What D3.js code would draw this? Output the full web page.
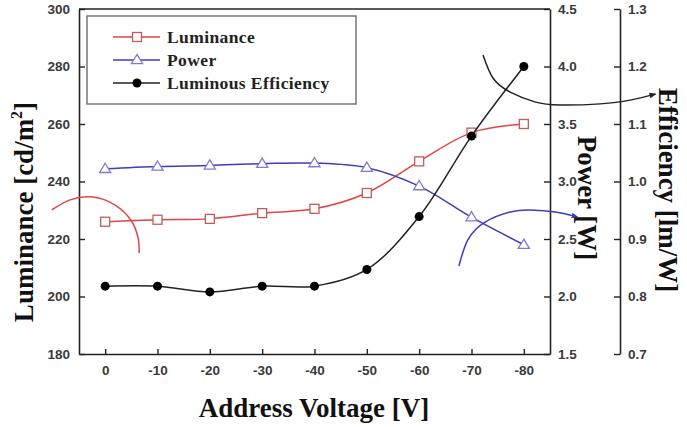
<!DOCTYPE html>
<html>
<head>
<meta charset="utf-8">
<script src="https://cdn.jsdelivr.net/npm/d3@7"></script>
<style>
  body { margin: 0; background: #fff; }
  svg { display: block; }
</style>
</head>
<body>
<div id="chart"></div>
<script>
// Data
const voltages = [0, -10, -20, -30, -40, -50, -60, -70, -80]
const luminance = [226, 226.7, 227, 229, 230.5, 236, 247, 257, 260]
const power = [3.11, 3.13, 3.14, 3.155, 3.16, 3.12, 2.96, 2.69, 2.45]
const efficiency = [0.818, 0.818, 0.808, 0.818, 0.818, 0.847, 0.939, 1.079, 1.2]

const xTicks = [0, -10, -20, -30, -40, -50, -60, -70, -80]
const lumTicks = [180, 200, 220, 240, 260, 280, 300]
const powTicks = [1.5, 2.0, 2.5, 3.0, 3.5, 4.0, 4.5]
const effTicks = [0.7, 0.8, 0.9, 1.0, 1.1, 1.2, 1.3]

// Annotation curves, in (voltage, luminance) units
const redArc = [[10.2, 230.1], [6.7, 233.6], [2.3, 234.6], [-1.9, 231.8], [-4.9, 226.6], [-6.3, 220.3], [-6.5, 215.1]]
const blueArc = [[-67.6, 210.6], [-69.3, 219.7], [-72.6, 225.9], [-77.4, 229.4], [-81.2, 230.1], [-86.0, 229.4], [-90.2, 227.7]]
const blackArc = [[-72.2, 284.0], [-74.1, 276.0], [-77.4, 271.1], [-82.1, 267.7], [-86.9, 266.6], [-94.6, 267.0], [-100.3, 268.3], [-105.1, 270.4]]

// Canvas
const m = { left: 79, right: 137, top: 9, bottom: 73 }
const W = 687, H = 427
const w = W - m.left - m.right
const h = H - m.top - m.bottom

const svg = d3.select('#chart').append('svg')
  .attr('width', W).attr('height', H)

const defs = svg.append('defs')
const arrow = (id, color) => defs.append('marker')
  .attr('id', id)
  .attr('viewBox', '0 0 10 10')
  .attr('refX', 8).attr('refY', 5)
  .attr('markerWidth', 7).attr('markerHeight', 7)
  .attr('markerUnits', 'userSpaceOnUse')
  .attr('orient', 'auto')
  .append('path').attr('d', 'M0,1 L10,5 L0,9 Z').attr('fill', color)
arrow('arrBlue', '#3c3cc4')
arrow('arrBlack', '#222')

const g = svg.append('g').attr('transform', `translate(${m.left},${m.top})`)

// Scales
const x = d3.scaleLinear().domain([5, -85]).range([0, w])
const yL = d3.scaleLinear().domain([180, 300]).range([h, 0])
const yP = d3.scaleLinear().domain([1.5, 4.5]).range([h, 0])
const yE = d3.scaleLinear().domain([0.7, 1.3]).range([h, 0])

const tickFont = g => g.selectAll('text')
  .attr('font-family', 'Liberation Sans, Arial, sans-serif')
  .attr('font-weight', 'bold')
  .attr('font-size', 13.5)
  .attr('fill', '#3a3a3a')

const axisStyle = g => {
  g.select('.domain').attr('stroke', '#222').attr('stroke-width', 1.6)
  g.selectAll('.tick line').attr('stroke', '#222').attr('stroke-width', 1.4)
  tickFont(g)
}

// Top frame line
g.append('line').attr('x1', 0).attr('x2', w).attr('y1', 0).attr('y2', 0)
  .attr('stroke', '#222').attr('stroke-width', 1.6)

// Axes
g.append('g')
  .attr('transform', `translate(0,${h})`)
  .call(d3.axisBottom(x).tickValues(xTicks).tickFormat(d => String(d))
    .tickSizeInner(-5).tickSizeOuter(0).tickPadding(11))
  .call(axisStyle)

g.append('g')
  .call(d3.axisLeft(yL).tickValues(lumTicks).tickSizeInner(-6).tickSizeOuter(0).tickPadding(9))
  .call(axisStyle)

g.append('g')
  .attr('transform', `translate(${w},0)`)
  .call(d3.axisRight(yP).tickValues(powTicks).tickFormat(d3.format('.1f'))
    .tickSizeInner(-6).tickSizeOuter(0).tickPadding(8))
  .call(axisStyle)

g.append('g')
  .attr('transform', `translate(${w + 70},0)`)
  .call(d3.axisRight(yE).tickValues(effTicks).tickFormat(d3.format('.1f'))
    .tickSizeInner(-6).tickSizeOuter(0).tickPadding(8))
  .call(axisStyle)

// Axis titles
const serif = 'Liberation Serif, Times New Roman, serif'
const lumTitle = svg.append('text')
  .attr('transform', `translate(33,212) rotate(-90)`)
  .attr('text-anchor', 'middle')
  .attr('font-family', serif).attr('font-weight', 'bold').attr('font-size', 27)
  .attr('fill', '#111')
lumTitle.append('tspan').text('Luminance [cd/m')
lumTitle.append('tspan').text('2').attr('font-size', 16).attr('dy', -11)
lumTitle.append('tspan').text(']').attr('dy', 11)

svg.append('text')
  .attr('transform', `translate(578,${m.top + 189}) rotate(90)`)
  .attr('text-anchor', 'middle')
  .attr('font-family', serif).attr('font-weight', 'bold').attr('font-size', 27)
  .attr('fill', '#111')
  .text('Power [W]')

svg.append('text')
  .attr('transform', `translate(659,${m.top + 181}) rotate(90)`)
  .attr('text-anchor', 'middle')
  .attr('font-family', serif).attr('font-weight', 'bold').attr('font-size', 27)
  .attr('fill', '#111')
  .text('Efficiency [lm/W]')

svg.append('text')
  .attr('x', 314).attr('y', 417)
  .attr('text-anchor', 'middle')
  .attr('font-family', serif).attr('font-weight', 'bold').attr('font-size', 27)
  .attr('fill', '#111')
  .text('Address Voltage [V]')

// Series
const series = [
  { name: 'Luminance', values: luminance, y: yL, line: '#e24444', mark: '#c85a5a', shape: 'square' },
  { name: 'Power', values: power, y: yP, line: '#3c3cc4', mark: '#7c7cd0', shape: 'triangle' },
  { name: 'Luminous Efficiency', values: efficiency, y: yE, line: '#222', mark: '#000', shape: 'circle' }
]

const drawMark = (sel, s, size) => {
  if (s.shape === 'circle') {
    sel.append('circle').attr('r', size * 0.5).attr('fill', s.mark)
  } else if (s.shape === 'square') {
    sel.append('rect').attr('x', -size / 2).attr('y', -size / 2)
      .attr('width', size).attr('height', size)
      .attr('fill', '#fff').attr('stroke', s.mark).attr('stroke-width', 1.3)
  } else {
    const r = size * 0.62
    sel.append('path')
      .attr('d', `M0,${-r} L${r},${r * 0.65} L${-r},${r * 0.65} Z`)
      .attr('fill', '#fff').attr('stroke', s.mark).attr('stroke-width', 1.3)
  }
}

series.forEach(s => {
  const pts = voltages.map((v, i) => [x(v), s.y(s.values[i])])
  g.append('path')
    .attr('d', d3.line().curve(d3.curveCatmullRom)(pts))
    .attr('fill', 'none').attr('stroke', s.line).attr('stroke-width', 1.5)
  g.selectAll(null).data(pts).enter().append('g')
    .attr('transform', d => `translate(${d[0]},${d[1]})`)
    .each(function () { drawMark(d3.select(this), s, 9) })
})

// Annotation arrows
const arcLine = d3.line().x(d => x(d[0])).y(d => yL(d[1])).curve(d3.curveNatural)
g.append('path').attr('d', arcLine(redArc))
  .attr('fill', 'none').attr('stroke', '#e24444').attr('stroke-width', 1.5)
g.append('path').attr('d', arcLine(blueArc))
  .attr('fill', 'none').attr('stroke', '#3c3cc4').attr('stroke-width', 1.5)
  .attr('marker-end', 'url(#arrBlue)')
g.append('path').attr('d', arcLine(blackArc))
  .attr('fill', 'none').attr('stroke', '#222').attr('stroke-width', 1.5)
  .attr('marker-end', 'url(#arrBlack)')

// Legend
const lg = svg.append('g').attr('transform', 'translate(87,16)')
lg.append('rect').attr('width', 269).attr('height', 88)
  .attr('fill', '#fff').attr('stroke', '#777').attr('stroke-width', 1.5)
series.forEach((s, i) => {
  const row = lg.append('g').attr('transform', `translate(0,${21 + i * 23})`)
  row.append('line').attr('x1', 26).attr('x2', 73)
    .attr('stroke', s.line).attr('stroke-width', 1.5)
  drawMark(row.append('g').attr('transform', 'translate(50,0)'), s, 9)
  row.append('text').attr('x', 80).attr('y', 6)
    .attr('font-family', serif).attr('font-weight', 'bold').attr('font-size', 17.5)
    .attr('letter-spacing', 0.4)
    .attr('fill', '#222')
    .text(s.name)
})
</script>
</body>
</html>
